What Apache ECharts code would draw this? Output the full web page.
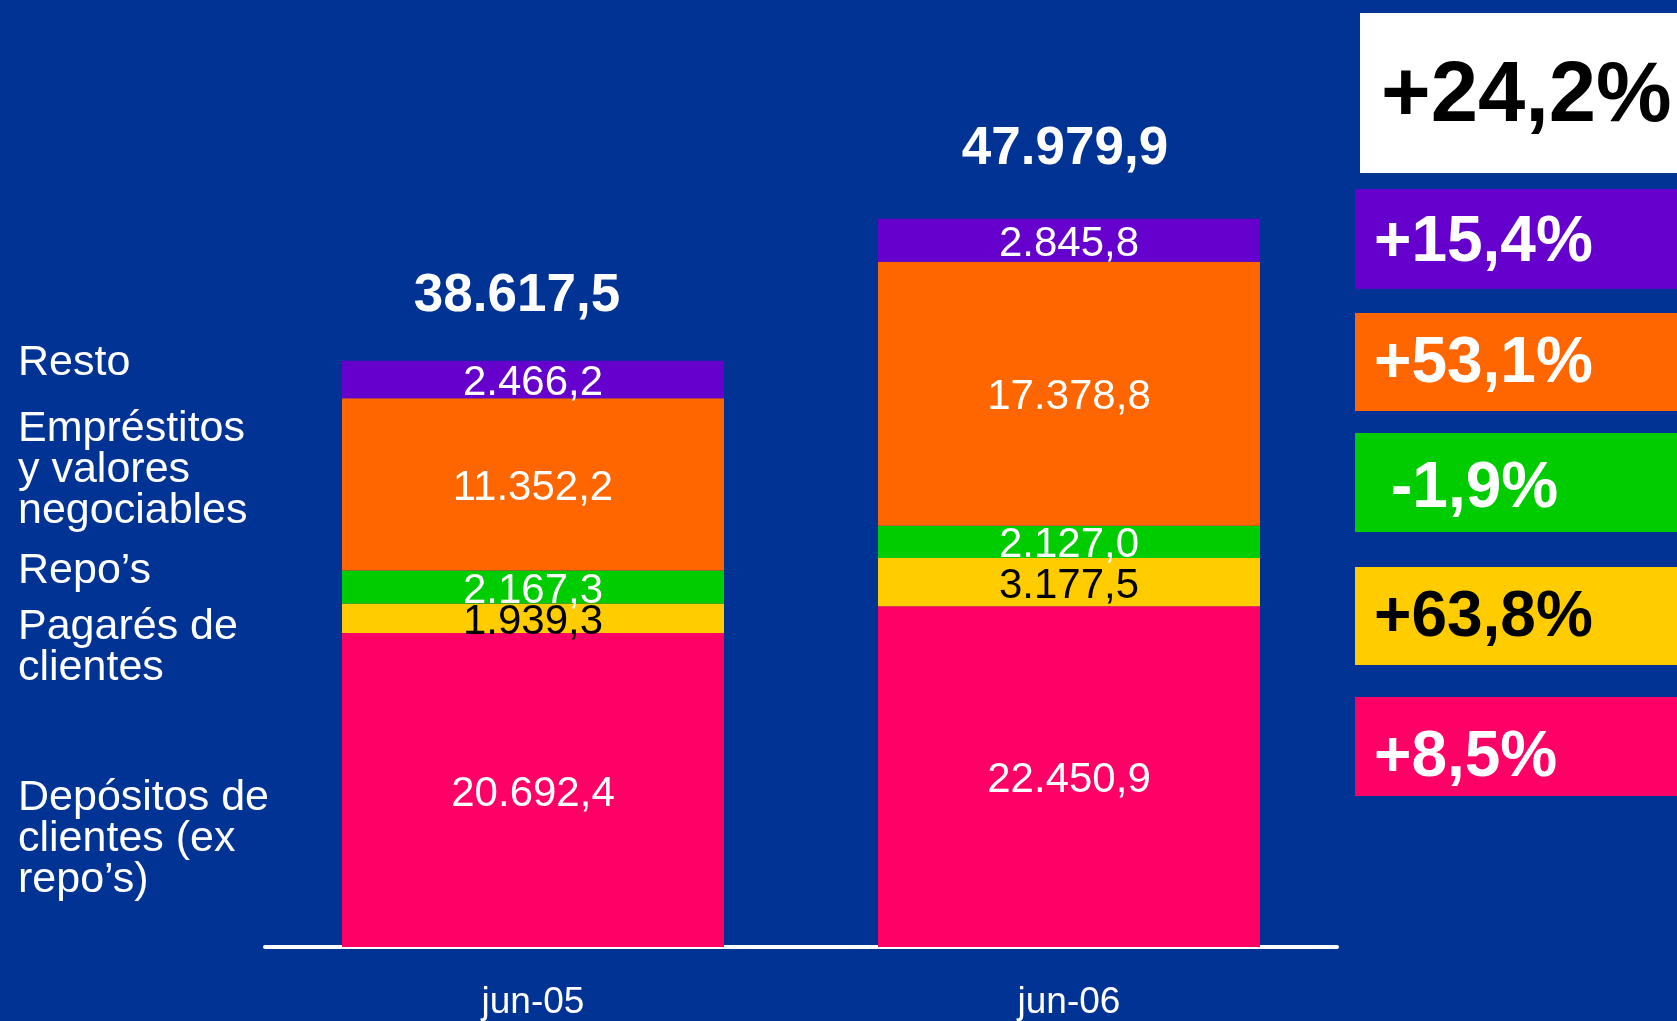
<!DOCTYPE html>
<html>
<head>
<meta charset="utf-8">
<script src="https://cdn.jsdelivr.net/npm/echarts@6/dist/echarts.min.js"></script>
<style>
  html, body { margin: 0; padding: 0; background: #003393; }
  #chart { width: 1677px; height: 1021px; }
</style>
</head>
<body>
<div id="chart"></div>
<script>
// datos
const periods = ['jun-05', 'jun-06']
const depositos = [20692.4, 22450.9]
const pagares = [1939.3, 3177.5]
const repos = [2167.3, 2127.0]
const emprestitos = [11352.2, 17378.8]
const resto = [2466.2, 2845.8]
const totals = [38617.5, 47979.9]
const growthTotal = '+24,2%'
const growthBySeries = ['+15,4%', '+53,1%', '-1,9%', '+63,8%', '+8,5%']

const FONT = "'Liberation Sans', Arial, sans-serif"

function fmt (v) {
  let parts = v.toFixed(1).split('.')
  let ent = parts[0].replace(/\B(?=(\d{3})+(?!\d))/g, '.')
  return ent + ',' + parts[1]
}

const chart = echarts.init(document.getElementById('chart'))

function segment (name, data, color, labelColor) {
  return {
    name: name,
    type: 'bar',
    stack: 'a',
    data: data,
    barWidth: 382,
    itemStyle: { color: color },
    label: {
      show: true,
      position: 'inside',
      offset: [0, 4],
      color: labelColor,
      fontFamily: FONT,
      fontSize: 42,
      formatter: p => fmt(p.value)
    }
  }
}

// cajas de la derecha
const boxes = [
  { y: 189, h: 100, fill: '#6600CC', txt: '#ffffff', tx: 1374, ty: 243 },
  { y: 313, h: 98, fill: '#FF6600', txt: '#ffffff', tx: 1374, ty: 364 },
  { y: 433, h: 99, fill: '#00CC00', txt: '#ffffff', tx: 1391, ty: 489 },
  { y: 567, h: 98, fill: '#FFCC00', txt: '#000000', tx: 1374, ty: 618 },
  { y: 697, h: 99, fill: '#FF0066', txt: '#ffffff', tx: 1374, ty: 758 }
]
let graphics = [
  { type: 'rect', shape: { x: 1360, y: 13, width: 317, height: 160 }, style: { fill: '#ffffff' } },
  { type: 'text', x: 1381, y: 98, style: { text: growthTotal, fill: '#000', font: 'bold 85px ' + FONT, textVerticalAlign: 'middle' } }
]
boxes.forEach((b, i) => {
  graphics.push({ type: 'rect', shape: { x: 1355, y: b.y, width: 322, height: b.h }, style: { fill: b.fill } })
  graphics.push({ type: 'text', x: b.tx, y: b.ty, style: { text: growthBySeries[i], fill: b.txt, font: 'bold 64px ' + FONT, textVerticalAlign: 'middle' } })
})

// etiquetas de la izquierda
const leftLabels = [
  { t: 'Resto', y: 363 },
  { t: 'Empréstitos\ny valores\nnegociables', y: 470 },
  { t: 'Repo’s', y: 571 },
  { t: 'Pagarés de\nclientes', y: 648 },
  { t: 'Depósitos de\nclientes (ex\nrepo’s)', y: 839 }
]
leftLabels.forEach(l => {
  graphics.push({
    type: 'text', x: 18, y: l.y,
    style: { text: l.t, fill: '#ffffff', font: '43px ' + FONT, lineHeight: 41, textVerticalAlign: 'middle' }
  })
})

chart.setOption({
  backgroundColor: '#003393',
  animation: false,
  grid: { left: 265, right: 340, top: 188, bottom: 72 },
  xAxis: {
    type: 'category',
    data: periods,
    axisLine: { show: true, lineStyle: { color: '#ffffff', width: 4 } },
    axisTick: { show: false },
    axisLabel: {
      color: '#ffffff',
      fontFamily: FONT,
      fontSize: 37,
      margin: 37
    }
  },
  yAxis: {
    type: 'value',
    min: 0,
    max: 50000,
    show: false,
    splitLine: { show: false }
  },
  series: [
    segment('Depósitos de clientes (ex repo’s)', depositos, '#FF0066', '#ffffff'),
    segment('Pagarés de clientes', pagares, '#FFCC00', '#000000'),
    segment('Repo’s', repos, '#00CC00', '#ffffff'),
    segment('Empréstitos y valores negociables', emprestitos, '#FF6600', '#ffffff'),
    segment('Resto', resto, '#6600CC', '#ffffff'),
    {
      name: 'Total',
      type: 'scatter',
      data: totals.map((v, i) => ({ value: v, label: { offset: i === 0 ? [-16, 5] : [-4, 0] } })),
      symbolSize: 1,
      itemStyle: { color: 'rgba(0,0,0,0)', opacity: 1 },
      label: {
        show: true,
        position: 'top',
        distance: 42,
        color: '#ffffff',
        fontFamily: FONT,
        fontWeight: 'bold',
        fontSize: 53,
        formatter: p => fmt(p.value)
      },
      z: 5
    }
  ],
  graphic: graphics
})
</script>
</body>
</html>
